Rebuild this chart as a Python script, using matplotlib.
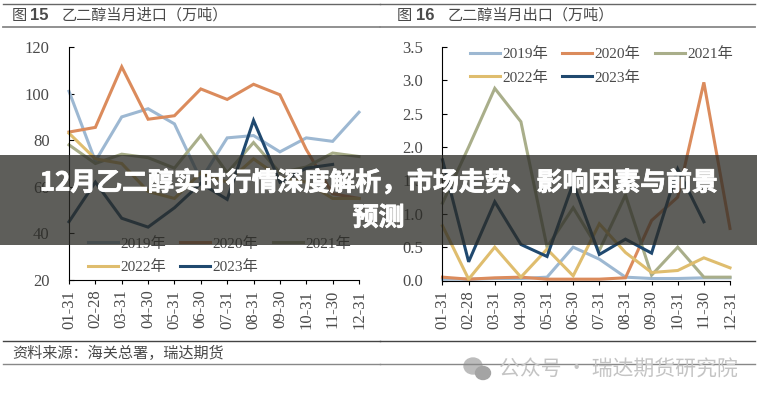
# -*- coding: utf-8 -*-
import matplotlib
matplotlib.use('Agg')
import matplotlib.pyplot as plt
import matplotlib.patheffects as pe
from matplotlib.patches import Rectangle, Ellipse

W, H = 757, 400

months = ['01-31', '02-28', '03-31', '04-30', '05-31', '06-30',
          '07-31', '08-31', '09-30', '10-31', '11-30', '12-31']
years = ['2019年', '2020年', '2021年', '2022年', '2023年']
colors = ['#9db8d2', '#db8b5c', '#a9ae8a', '#dfbd6e', '#20496f']

imp_2019 = [101, 71, 90, 93.5, 87, 63, 81, 82, 75, 81, 79.5, 92]
imp_2020 = [83.5, 85.5, 111.5, 89, 90.5, 102, 97.5, 104, 99.5, 76, 57, 55]
imp_2021 = [78, 70, 74, 72.5, 68, 82, 66, 79, 66, 68.5, 74.5, 73]
imp_2022 = [83, 72, 70, 58, 55, 66, 62, 72, 64, 62, 55, 55]
imp_2023 = [45, 62, 46.5, 42.7, 51, 61.5, 54.6, 88.5, 62, 68, 69.6, None]
imp_series = [imp_2019, imp_2020, imp_2021, imp_2022, imp_2023]

exp_2019 = [0.02, 0.02, 0.03, 0.03, 0.05, 0.5, 0.32, 0.05, 0.03, 0.03, 0.04, 0.04]
exp_2020 = [0.05, 0.02, 0.04, 0.05, 0.02, 0.02, 0.02, 0.04, 0.9, 1.25, 2.97, 0.78]
exp_2021 = [1.16, 2.0, 2.88, 2.38, 0.5, 1.09, 0.45, 1.28, 0.08, 0.5, 0.05, 0.05]
exp_2022 = [0.82, 0.02, 0.5, 0.05, 0.47, 0.07, 0.85, 0.42, 0.12, 0.15, 0.34, 0.19]
exp_2023 = [1.81, 0.28, 1.18, 0.54, 0.36, 1.46, 0.39, 0.62, 0.41, 1.67, 0.88, None]
exp_series = [exp_2019, exp_2020, exp_2021, exp_2022, exp_2023]

serif = ['Liberation Serif', 'Noto Sans CJK SC']
cjk = ['Noto Sans CJK SC', 'DejaVu Sans']
text_gray = '#4a4a4a'


def draw_panel(box, series, ylim, yticks, ylabels, legend_xy):
    left, right, top, bottom = box
    ax = fig.add_axes([left / W, 1 - bottom / H, (right - left) / W, (bottom - top) / H])
    x = list(range(len(months)))
    for vals, col, name in zip(series, colors, years):
        ax.plot(x, [float('nan') if v is None else v for v in vals],
                color=col, lw=2.2, label=name, solid_joinstyle='miter', clip_on=False)
    ax.set_xlim(0, 11)
    ax.set_ylim(*ylim)
    ax.set_xticks(x)
    ax.set_xticklabels(months, rotation=90, fontsize=12, family=serif, color=text_gray)
    ax.set_yticks(yticks)
    ax.set_yticklabels(ylabels, fontsize=12, family=serif, color=text_gray)
    ax.tick_params(axis='x', direction='out', length=3, width=0.8, pad=4)
    ax.tick_params(axis='y', direction='in', length=3.5, width=0.8, pad=14)
    ax.spines['top'].set_visible(False)
    ax.spines['right'].set_visible(False)
    ax.patch.set_alpha(0)
    # legend fills by column, so reorder to read row by row
    handles, labels = ax.get_legend_handles_labels()
    order = [0, 3, 1, 4, 2]
    ax.legend([handles[i] for i in order], [labels[i] for i in order], ncol=3, frameon=False,
              loc='upper left', bbox_to_anchor=legend_xy,
              prop={'family': serif, 'size': 11}, labelcolor=text_gray, handlelength=1.95,
              handletextpad=0.15, columnspacing=0.95, labelspacing=0.62,
              borderaxespad=0, borderpad=0)
    return ax


def rule(x0, x1, y, color, lw):
    fig.add_artist(plt.Line2D([x0 / W, x1 / W], [1 - y / H, 1 - y / H], color=color, lw=lw))


fig = plt.figure(figsize=(W / 100, H / 100), dpi=100, facecolor='white')

draw_panel((69, 359, 47, 280), imp_series, (20, 120), [20, 40, 60, 80, 100, 120],
           ['20', '40', '60', '80', '100', '120'], (0.066, 0.186))
draw_panel((442.5, 730, 47, 280.5), exp_series, (0, 3.5), [0, 0.5, 1, 1.5, 2, 2.5, 3, 3.5],
           ['0.0', '0.5', '1.0', '1.5', '2.0', '2.5', '3.0', '3.5'], (0.096, 0.998))

# header and footer rules
for x0, x1 in [(3, 380), (380, 755)]:
    rule(x0, x1, 3.5, '#666666', 1.0)
    rule(x0, x1, 27, '#888888', 1.3)
    rule(x0, x1, 341, '#444444', 1.0)
    rule(x0, x1, 364, '#888888', 1.0)

fig.text(12 / W, 1 - 15.5 / H, '图', fontsize=11, family=cjk, color=text_gray, va='center')
fig.text(29.5 / W, 1 - 15.5 / H, '15', fontsize=12, family='Liberation Sans', weight='bold', color=text_gray, va='center')
fig.text(62 / W, 1 - 15.5 / H, '乙二醇当月进口（万吨）', fontsize=10.9, family=cjk, color=text_gray, va='center')
fig.text(397 / W, 1 - 15.5 / H, '图', fontsize=11, family=cjk, color=text_gray, va='center')
fig.text(415.5 / W, 1 - 15.5 / H, '16', fontsize=12, family='Liberation Sans', weight='bold', color=text_gray, va='center')
fig.text(448 / W, 1 - 15.5 / H, '乙二醇当月出口（万吨）', fontsize=10.9, family=cjk, color=text_gray, va='center')
fig.text(12 / W, 1 - 353 / H, '资料来源：海关总署，瑞达期货', fontsize=10.9, family=cjk, color=text_gray, va='center')

# watermark
fig.text(499 / W, 1 - 370 / H, '公众号 · 瑞达期货研究院', fontsize=15, family=cjk, color='#c4c4c4', va='center')
fig.add_artist(Ellipse((473 / W, 1 - 366 / H), 18 / W, 16 / H, color='#bcbcbc'))
fig.add_artist(Ellipse((483 / W, 1 - 373 / H), 15 / W, 13 / H, color='#a4a4a4'))

# title band
fig.add_artist(Rectangle((0, 1 - 245 / H), 1, 90 / H, transform=fig.transFigure,
                         facecolor='#2b2b26', alpha=0.76, edgecolor='none', zorder=5))
bold = [pe.withStroke(linewidth=0.6, foreground='white')]
fig.text(0.5, 1 - 183 / H, '12月乙二醇实时行情深度解析，市场走势、影响因素与前景', fontsize=18.65,
         family=cjk, weight='bold', color='white', ha='center', va='center', zorder=6, path_effects=bold)
fig.text(0.5, 1 - 218 / H, '预测', fontsize=18.65, family=cjk, weight='bold', color='white',
         ha='center', va='center', zorder=6, path_effects=bold)

fig.savefig('out.png', dpi=100)
